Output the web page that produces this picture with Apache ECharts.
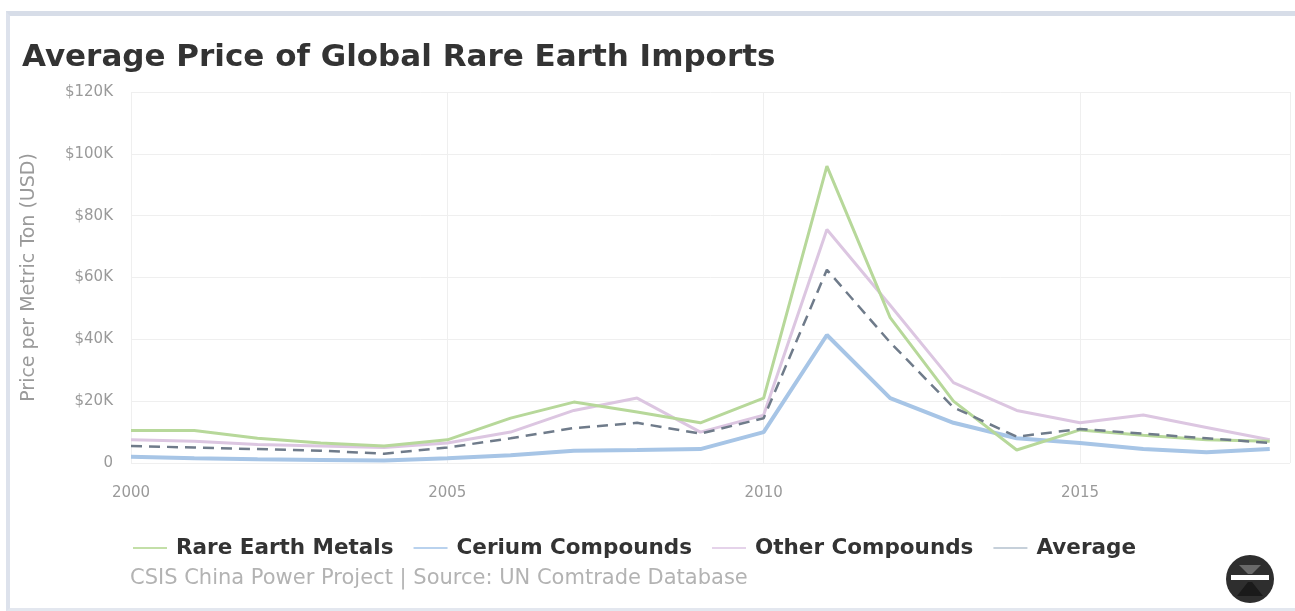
<!DOCTYPE html>
<html>
<head>
<meta charset="utf-8">
<title>Average Price of Global Rare Earth Imports</title>
<script src="https://cdn.jsdelivr.net/npm/echarts@6/dist/echarts.min.js"></script>
<style>
  html, body { margin: 0; padding: 0; background: #ffffff; }
  #wrap { position: relative; width: 1295px; height: 611px; overflow: hidden; }
  #frame {
    position: absolute; left: 6px; top: 11px; width: 1292px; height: 592px;
    border-top: 5px solid #d7dde8; border-left: 4px solid #dde2ec;
    border-bottom: 3px solid #e3e7ef; border-right: 3px solid #dde2ec;
  }
  #chart { position: absolute; left: 0; top: 0; width: 1295px; height: 611px; }
</style>
</head>
<body>
<div id="wrap">
  <div id="frame"></div>
  <div id="chart"></div>
</div>
<script>
// Years on the horizontal axis
var years = [2000, 2001, 2002, 2003, 2004, 2005, 2006, 2007, 2008, 2009,
             2010, 2011, 2012, 2013, 2014, 2015, 2016, 2017, 2018];

// Average import price, thousands of USD per metric ton
var rareEarthMetals  = [10.5, 10.5, 8, 6.5, 5.5, 7.5, 14.5, 19.7, 16.5, 13, 21, 96, 47, 20, 4.2, 10.7, 9, 7.5, 7];
var ceriumCompounds  = [2, 1.5, 1.2, 1, 0.8, 1.5, 2.5, 4, 4.2, 4.5, 10, 41.4, 21, 13, 8, 6.5, 4.5, 3.5, 4.5];
var otherCompounds   = [7.5, 7, 6, 5.5, 5, 6.5, 10, 17, 21, 10, 15.5, 75.5, 51, 26, 17, 13, 15.5, 11.5, 7.5];
var averagePrice     = [5.5, 5, 4.5, 4, 3, 5, 8, 11.3, 13, 9.5, 14.5, 62.5, 39, 18, 8.5, 11, 9.5, 8, 6.5];

var seriesNames = ['Rare Earth Metals', 'Cerium Compounds', 'Other Compounds', 'Average'];

// y-axis tick values (thousands of USD)
var yTicks = [0, 20, 40, 60, 80, 100, 120];

function pairs(values) {
  return years.map(function (y, i) { return [y, values[i]]; });
}

var FONT = 'DejaVu Sans';
var chart = echarts.init(document.getElementById('chart'), null, { renderer: 'canvas' });

chart.setOption({
  backgroundColor: 'transparent',
  animation: false,
  title: {
    text: 'Average Price of Global Rare Earth Imports',
    left: 17, top: 37,
    textStyle: { fontFamily: FONT, fontSize: 31, fontWeight: 'bold', color: '#333333' }
  },
  grid: { left: 131, right: 5, top: 92, bottom: 148, containLabel: false },
  xAxis: {
    type: 'value',
    min: 2000, max: 2018.32, interval: 5,
    axisLine: { show: false },
    axisTick: { show: false },
    axisLabel: {
      showMaxLabel: false,
      margin: 23,
      fontFamily: FONT, fontSize: 15, color: '#9a9a9a',
      formatter: function (v) { return String(v); }
    },
    splitLine: { show: true, lineStyle: { color: '#efefef', width: 1 } }
  },
  yAxis: {
    type: 'value',
    min: yTicks[0], max: yTicks[yTicks.length - 1], interval: 20,
    name: 'Price per Metric Ton (USD)',
    nameLocation: 'middle',
    nameGap: 92,
    nameTextStyle: { fontFamily: FONT, fontSize: 19, color: '#9a9a9a' },
    axisLine: { show: false },
    axisTick: { show: false },
    axisLabel: {
      margin: 18,
      fontFamily: FONT, fontSize: 15, color: '#9a9a9a',
      formatter: function (v) { return v === 0 ? '0' : '$' + v + 'K'; }
    },
    splitLine: { show: true, lineStyle: { color: '#efefef', width: 1 } }
  },
  legend: {
    left: 128, top: 532,
    itemWidth: 34, itemHeight: 14, itemGap: 20,
    icon: 'path://M0,6 L34,6 L34,8 L0,8 Z',
    textStyle: { fontFamily: FONT, fontSize: 21.5, fontWeight: 'bold', color: '#333333', padding: [0, 0, 0, 4] },
    data: seriesNames
  },
  series: [
    {
      name: seriesNames[0], type: 'line', data: pairs(rareEarthMetals),
      symbol: 'none', smooth: false, z: 3,
      lineStyle: { color: '#b7d89a', width: 3 },
      itemStyle: { color: '#c3dfa8' }
    },
    {
      name: seriesNames[1], type: 'line', data: pairs(ceriumCompounds),
      symbol: 'none', z: 2,
      lineStyle: { color: '#a7c5e6', width: 4 },
      itemStyle: { color: '#b9d2ee' }
    },
    {
      name: seriesNames[2], type: 'line', data: pairs(otherCompounds),
      symbol: 'none', z: 2,
      lineStyle: { color: '#dcc6e1', width: 3 },
      itemStyle: { color: '#e5d3ea' }
    },
    {
      name: seriesNames[3], type: 'line', data: pairs(averagePrice),
      symbol: 'none', z: 4,
      lineStyle: { color: '#6f7b8a', width: 2.5, type: [11, 7] },
      itemStyle: { color: '#c6d0da' }
    }
  ],
  graphic: [
    {
      type: 'text', left: 130, top: 568,
      style: {
        text: 'CSIS China Power Project | Source: UN Comtrade Database',
        fontFamily: FONT, fontSize: 21, fill: '#b3b3b3'
      }
    },
    {
      // China Power badge
      type: 'group', left: 1226, top: 555,
      children: [
        { type: 'circle', shape: { cx: 25, cy: 25, r: 24 }, style: { fill: '#2e2e2e' } },
        { type: 'rect', shape: { x: 6, y: 21, width: 38, height: 5 }, style: { fill: '#ffffff' } },
        { type: 'polygon', shape: { points: [[14, 11], [36, 11], [27, 20], [23, 20]] }, style: { fill: '#6a6a6a' } },
        { type: 'polygon', shape: { points: [[23, 28], [27, 28], [38, 42], [12, 42]] }, style: { fill: '#1a1a1a' } }
      ]
    }
  ]
});
</script>
</body>
</html>
